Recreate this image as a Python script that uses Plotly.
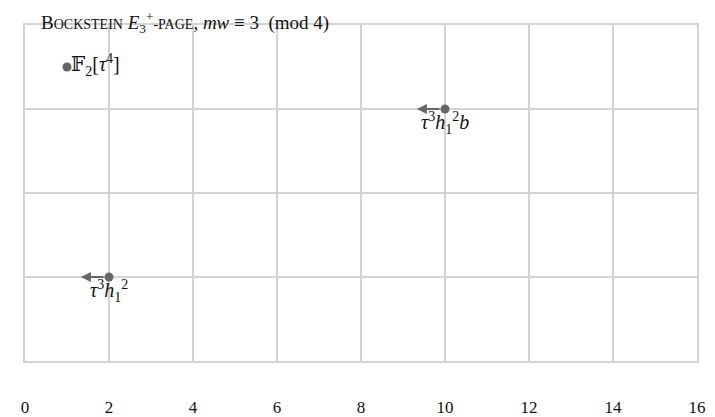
import plotly.graph_objects as go

# data
pt_x = [1, 10, 2]
pt_y = [3.5, 3, 1]
pt_labels = ["𝔽<sub>2</sub>[<i>τ</i><sup>4</sup>]", "<i>τ</i><sup>3</sup><i>h</i><sub>1</sub><sup>2</sup><i>b</i>", "<i>τ</i><sup>3</sup><i>h</i><sub>1</sub><sup>2</sup>"]
label_pos = ["right", "below", "below"]
arrow_from_x = [10, 2]
arrow_from_y = [3, 1]
arrow_to_x = [9.33, 1.33]
arrow_to_y = [3, 1]
x_ticks = [0, 2, 4, 6, 8, 10, 12, 14, 16]

FONT = "Liberation Serif, DejaVu Serif, serif"
GREY = "#666666"
GRID = "#d3d3d3"

fig = go.Figure()
fig.add_trace(go.Scatter(x=pt_x, y=pt_y, mode="markers",
                         marker=dict(size=9, color=GREY), hoverinfo="skip", showlegend=False))

for x, y, t, p in zip(pt_x, pt_y, pt_labels, label_pos):
    if p == "right":
        fig.add_annotation(x=x, y=y, text=t, showarrow=False, xanchor="left", yanchor="middle",
                           xshift=2, yshift=2, font=dict(family=FONT, size=20, color="#111"))
    else:
        fig.add_annotation(x=x, y=y, text=t, showarrow=False, xanchor="center", yanchor="top",
                           yshift=2, font=dict(family=FONT, size=20, color="#111"))

for x0, y0, x1, y1 in zip(arrow_from_x, arrow_from_y, arrow_to_x, arrow_to_y):
    fig.add_annotation(x=x1, y=y1, ax=x0, ay=y0, xref="x", yref="y", axref="x", ayref="y",
                       text="", showarrow=True, arrowhead=2, arrowsize=1, arrowwidth=2,
                       arrowcolor=GREY, standoff=0, startstandoff=4)

fig.add_annotation(
    text="B<span style='font-size:14px'>OCKSTEIN</span> <i>E</i><sub>3</sub><sup>+</sup><span style='font-size:14px'>-PAGE</span>, <i>mw</i> ≡ 3  (mod 4)",
    xref="paper", yref="paper", x=15/672, y=1, xanchor="left", yanchor="top", yshift=17,
    showarrow=False, borderpad=0, font=dict(family=FONT, size=19, color="#111"))

fig.update_layout(
    width=715, height=417,
    margin=dict(l=17, r=26, t=17, b=64),
    paper_bgcolor="white", plot_bgcolor="white",
    font=dict(family=FONT, size=16, color="#111"),
    xaxis=dict(range=[0, 16], tickvals=x_ticks, showgrid=True, gridcolor=GRID, gridwidth=2,
               zeroline=False, showline=True, linecolor=GRID, linewidth=2, mirror=True,
               automargin=False,
               ticks="", ticklabelstandoff=30, tickfont=dict(family=FONT, size=17, color="#111")),
    yaxis=dict(range=[0, 4], dtick=1, showgrid=True, gridcolor=GRID, gridwidth=2,
               zeroline=False, showline=True, linecolor=GRID, linewidth=2, mirror=True,
               automargin=False, showticklabels=False, ticks=""),
)

fig.write_html("out.html")
